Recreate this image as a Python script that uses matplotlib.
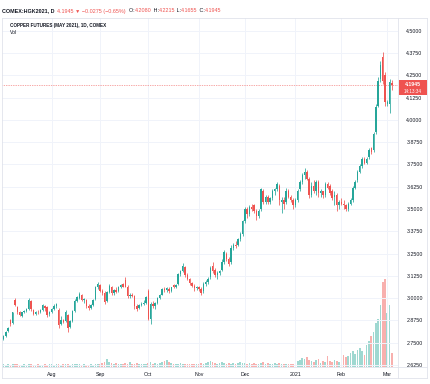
import matplotlib
matplotlib.use('Agg')
import matplotlib.pyplot as plt
import numpy as np
import pandas as pd
from matplotlib.lines import Line2D
from matplotlib.patches import Rectangle

plt.rcParams['font.family'] = ['Liberation Sans', 'DejaVu Sans']

# ---------------- data ----------------
holidays = ['2020-07-03', '2020-09-07', '2020-11-26', '2020-12-25', '2021-01-01']
dates = pd.bdate_range('2020-07-02', '2021-03-03')
dates = dates[~dates.isin(pd.to_datetime(holidays))]

opens = [
    # Jul
    2.770, 2.790, 2.815, 2.880, 2.860, 2.990, 2.950, 2.925, 2.900, 2.920, 2.930,
    2.940, 2.985, 2.935, 2.910, 2.925, 2.920, 2.935, 2.955, 2.950, 2.910,
    # Aug
    2.920, 2.940, 2.955, 2.935, 2.855, 2.875, 2.870, 2.905, 2.840, 2.870, 2.930,
    2.985, 3.000, 3.020, 2.990, 2.990, 2.955, 2.945, 2.960, 2.995, 3.060,
    # Sep
    3.075, 3.040, 3.030, 2.985, 3.035, 3.065, 3.030, 3.045, 3.040, 3.065, 3.080,
    3.100, 3.065, 3.010, 3.020, 3.010, 2.955, 2.945, 2.960, 2.970, 2.975,
    # Oct
    3.040, 2.885, 2.965, 2.955, 2.975, 3.000, 3.020, 3.050, 3.045, 3.050, 3.040,
    3.075, 3.060, 3.080, 3.135, 3.150, 3.175, 3.130, 3.110, 3.085, 3.070, 3.055,
    # Nov
    3.060, 3.050, 3.040, 3.080, 3.090, 3.120, 3.180, 3.160, 3.130, 3.140,
    3.160, 3.200, 3.250, 3.220, 3.200, 3.280, 3.300, 3.300, 3.330, 3.360,
    # Dec
    3.430, 3.500, 3.470, 3.510, 3.520, 3.490, 3.460, 3.500, 3.600, 3.540, 3.570,
    3.540, 3.560, 3.600, 3.610, 3.630, 3.540, 3.550, 3.540, 3.600, 3.570, 3.550,
    # Jan
    3.520, 3.550, 3.610, 3.650, 3.690, 3.710, 3.670, 3.580, 3.630, 3.600,
    3.650, 3.590, 3.600, 3.580, 3.640, 3.630, 3.600, 3.570, 3.580, 3.520,
    # Feb
    3.540, 3.530, 3.520, 3.500, 3.530, 3.550, 3.620, 3.660, 3.710, 3.740,
    3.780, 3.760, 3.790, 3.840, 3.830, 3.930, 4.080, 4.230, 4.350, 4.250,
    # Mar
    4.090, 4.090, 4.2080,
]
highs = [
    2.795, 2.815, 2.840, 2.885, 2.925, 3.000, 2.955, 2.930, 2.925, 2.935, 2.945,
    3.000, 2.990, 2.940, 2.930, 2.935, 2.940, 2.965, 2.960, 2.955, 2.930,
    2.945, 2.965, 2.975, 2.945, 2.900, 2.885, 2.935, 2.910, 2.880, 2.935, 2.995,
    3.010, 3.035, 3.025, 3.000, 2.995, 2.965, 2.965, 2.995, 3.070, 3.090,
    3.080, 3.050, 3.040, 3.040, 3.080, 3.070, 3.050, 3.060, 3.070, 3.080, 3.085,
    3.120, 3.075, 3.030, 3.030, 3.020, 2.970, 2.970, 2.980, 2.990, 3.010,
    3.050, 2.980, 2.985, 2.980, 3.005, 3.025, 3.055, 3.060, 3.060, 3.060, 3.065,
    3.080, 3.080, 3.140, 3.160, 3.195, 3.180, 3.140, 3.115, 3.090, 3.080, 3.070,
    3.070, 3.060, 3.090, 3.100, 3.120, 3.180, 3.200, 3.170, 3.150, 3.160,
    3.220, 3.270, 3.260, 3.230, 3.300, 3.310, 3.320, 3.340, 3.370, 3.440,
    3.510, 3.510, 3.520, 3.530, 3.530, 3.500, 3.500, 3.620, 3.610, 3.580, 3.580,
    3.570, 3.610, 3.620, 3.650, 3.640, 3.570, 3.570, 3.620, 3.610, 3.580, 3.560,
    3.560, 3.610, 3.660, 3.700, 3.730, 3.720, 3.680, 3.650, 3.660, 3.660,
    3.660, 3.610, 3.600, 3.650, 3.650, 3.640, 3.610, 3.600, 3.590, 3.550,
    3.560, 3.550, 3.530, 3.540, 3.560, 3.630, 3.660, 3.720, 3.750, 3.790,
    3.790, 3.790, 3.840, 3.850, 3.930, 4.090, 4.240, 4.330, 4.380, 4.270,
    4.110, 4.230, 4.2215,
]
lows = [
    2.765, 2.785, 2.810, 2.845, 2.855, 2.955, 2.910, 2.900, 2.895, 2.915, 2.925,
    2.935, 2.930, 2.905, 2.905, 2.910, 2.915, 2.930, 2.930, 2.895, 2.900,
    2.915, 2.935, 2.945, 2.835, 2.850, 2.860, 2.865, 2.810, 2.835, 2.865, 2.925,
    2.980, 2.995, 2.985, 2.975, 2.945, 2.935, 2.940, 2.955, 2.990, 3.050,
    3.035, 3.020, 2.970, 2.980, 3.030, 3.020, 3.015, 3.030, 3.035, 3.055, 3.060,
    3.060, 3.000, 3.000, 3.005, 2.940, 2.930, 2.940, 2.955, 2.960, 2.970,
    2.880, 2.855, 2.945, 2.940, 2.970, 2.995, 3.015, 3.035, 3.035, 3.030, 3.035,
    3.055, 3.055, 3.075, 3.125, 3.145, 3.120, 3.100, 3.075, 3.060, 3.040, 3.045,
    3.040, 3.020, 3.030, 3.070, 3.080, 3.110, 3.140, 3.120, 3.110, 3.130,
    3.150, 3.190, 3.210, 3.180, 3.190, 3.270, 3.280, 3.290, 3.320, 3.350,
    3.420, 3.450, 3.460, 3.490, 3.480, 3.440, 3.450, 3.490, 3.530, 3.530, 3.530,
    3.530, 3.550, 3.580, 3.600, 3.520, 3.480, 3.500, 3.530, 3.560, 3.540, 3.500,
    3.510, 3.540, 3.600, 3.640, 3.670, 3.660, 3.560, 3.570, 3.590, 3.580,
    3.570, 3.570, 3.560, 3.570, 3.610, 3.580, 3.550, 3.520, 3.490, 3.500,
    3.520, 3.500, 3.490, 3.490, 3.520, 3.540, 3.610, 3.650, 3.700, 3.730,
    3.750, 3.750, 3.780, 3.810, 3.820, 3.920, 4.070, 4.210, 4.200, 4.080,
    4.080, 4.040, 4.1655,
]
closes = [
    2.790, 2.810, 2.835, 2.855, 2.920, 2.960, 2.920, 2.905, 2.920, 2.930, 2.940,
    2.990, 2.940, 2.910, 2.925, 2.920, 2.935, 2.960, 2.945, 2.905, 2.920,
    2.940, 2.955, 2.965, 2.850, 2.880, 2.865, 2.925, 2.835, 2.870, 2.930, 2.985,
    3.005, 3.025, 2.990, 2.995, 2.955, 2.945, 2.960, 2.990, 3.060, 3.080,
    3.040, 3.030, 2.980, 3.035, 3.070, 3.030, 3.045, 3.035, 3.065, 3.075, 3.065,
    3.065, 3.010, 3.020, 3.010, 2.955, 2.940, 2.960, 2.970, 2.975, 3.005,
    2.885, 2.965, 2.955, 2.975, 3.000, 3.015, 3.050, 3.045, 3.055, 3.040, 3.060,
    3.060, 3.075, 3.135, 3.150, 3.180, 3.130, 3.110, 3.085, 3.070, 3.055, 3.060,
    3.050, 3.030, 3.080, 3.090, 3.110, 3.170, 3.150, 3.130, 3.140, 3.150,
    3.200, 3.260, 3.220, 3.190, 3.280, 3.300, 3.290, 3.330, 3.360, 3.430,
    3.500, 3.470, 3.510, 3.500, 3.490, 3.460, 3.490, 3.610, 3.540, 3.570, 3.540,
    3.560, 3.600, 3.610, 3.640, 3.550, 3.550, 3.530, 3.600, 3.570, 3.550, 3.520,
    3.550, 3.600, 3.650, 3.690, 3.710, 3.670, 3.580, 3.630, 3.600, 3.650,
    3.590, 3.600, 3.580, 3.640, 3.620, 3.590, 3.560, 3.580, 3.520, 3.540,
    3.530, 3.520, 3.500, 3.530, 3.550, 3.620, 3.650, 3.710, 3.740, 3.780,
    3.760, 3.780, 3.830, 3.820, 3.920, 4.070, 4.220, 4.310, 4.220, 4.100,
    4.100, 4.210, 4.1945,
]
volumes = [
    3, 2, 3, 2, 3, 4, 3, 2, 2, 3, 2, 3, 3, 2, 2, 3, 2, 2, 3, 2, 3,
    3, 2, 4, 3, 2, 3, 3, 4, 2, 3, 3, 4, 3, 2, 3, 2, 2, 3, 2, 4, 3,
    4, 5, 6, 9, 6, 5, 4, 5, 3, 4, 3, 5, 4, 6, 4, 3, 5, 4, 3, 4, 3,
    5, 6, 4, 5, 4, 5, 6, 7, 8, 6, 5, 4, 3, 4, 5, 4, 3, 4, 3, 3, 4, 3,
    4, 5, 4, 5, 6, 7, 6, 5, 4, 5, 6, 5, 4, 5, 4, 5, 4, 5, 6, 5,
    5, 4, 5, 4, 5, 4, 4, 5, 6, 4, 5, 4, 4, 5, 4, 5, 4, 3, 4, 3, 3, 4,
    5, 7, 8, 10, 9, 12, 8, 7, 6, 8, 9, 5, 7, 6, 13, 7, 6, 8, 7, 6,
    12, 14, 11, 13, 16, 18, 15, 20, 22, 18, 14, 25, 30, 35, 40, 50, 55, 71, 97, 101,
    62, 71, 16,
]
month_labels = ['Aug', 'Sep', 'Oct', 'Nov', 'Dec', '2021', 'Feb', 'Mar']
price_ticks = [2.625, 2.75, 2.875, 3.0, 3.125, 3.25, 3.375, 3.5, 3.625,
               3.75, 3.875, 4.0, 4.125, 4.25, 4.375, 4.5]
last_price = 4.1945

# ---------------- figure ----------------
W, H = 430, 384
fig = plt.figure(figsize=(W / 100, H / 100), dpi=100)
def fx(px): return px / W
def fy(py): return 1 - py / H

UP, DOWN = '#26a69a', '#ef5350'
UPV, DOWNV = '#9fd8d1', '#f8b0ae'
TXT = '#131722'
GRID = '#f0f3fa'
BORDER = '#e0e3eb'

L, R, T, B = 2, 398, 18, 367
pos = [fx(L), fy(B), (R - L) / W, (B - T) / H]
axv = fig.add_axes(pos)
ax = fig.add_axes(pos)
ax.patch.set_alpha(0)

n = len(closes)
idx = np.arange(n)
o = np.array(opens); c = np.array(closes); h = np.array(highs); lo = np.array(lows)
up = c >= o

xlim = (-0.65, n - 1 + 2.65)

# volume
axv.bar(idx, volumes, width=0.72, color=[UPV if u else DOWNV for u in up], linewidth=0)
axv.set_ylim(0, 400)
axv.set_xlim(*xlim)
axv.axis('off')

# month ticks
months = dates.to_period('M')
month_idx = [int(np.argmax(months == p)) for p in months.unique()[1:]]

ax.set_xlim(*xlim)
ax.set_ylim(2.614, 4.571)
for m in month_idx:
    ax.axvline(m, color=GRID, lw=0.7, zorder=0)
for p in price_ticks:
    ax.axhline(p, color=GRID, lw=0.7, zorder=0)

cols = [UP if u else DOWN for u in up]
ax.vlines(idx, lo, h, colors=cols, lw=0.55, zorder=2)
body = np.maximum(np.abs(c - o), 0.003)
ax.bar(idx, body, bottom=np.minimum(o, c), width=0.62, color=cols, linewidth=0, zorder=3)

ax.axhline(last_price, color=DOWN, lw=0.5, ls=(0, (1, 1.5)), zorder=1)

ax.set_xticks(month_idx)
ax.set_xticklabels(month_labels[:len(month_idx)])
ax.tick_params(axis='x', length=0, pad=3.5, labelsize=3.8, labelcolor=TXT)
ax.yaxis.tick_right()
ax.set_yticks(price_ticks)
ax.set_yticklabels([f'{p:.4f}' for p in price_ticks])
ax.tick_params(axis='y', length=0, pad=6, labelsize=3.8, labelcolor=TXT)
for s in ax.spines.values():
    s.set_visible(False)

# frame lines
for (x0, y0, x1, y1) in [(2, 18, 427, 18), (2, 378, 427, 378), (2, 18, 2, 378),
                         (427, 18, 427, 378), (398, 18, 398, 378), (2, 367, 427, 367)]:
    fig.add_artist(Line2D([fx(x0), fx(x1)], [fy(y0), fy(y1)], color=BORDER, lw=0.6))

# last price label
fig.add_artist(Rectangle((fx(399), fy(95)), (427 - 399) / W, 15 / H, color=DOWN, lw=0))
fig.text(fx(413), fy(84.5), f'{last_price:.4f}', color='white', fontsize=3.7,
         ha='center', va='center', fontweight='bold')
fig.text(fx(413), fy(91.3), '14:13:34', color='white', fontsize=3.3, ha='center', va='center')

# header
renderer = fig.canvas.get_renderer()
pieces = [('COMEX:HGK2021, D', TXT, 'bold'), ('  4.1945 ▼ −0.0275 (−0.65%)', DOWN, 'normal'),
          ('  O:', TXT, 'normal'), ('4.2080', DOWN, 'normal'), (' H:', TXT, 'normal'),
          ('4.2215', DOWN, 'normal'), (' L:', TXT, 'normal'), ('4.1655', DOWN, 'normal'),
          (' C:', TXT, 'normal'), ('4.1945', DOWN, 'normal')]
xcur = fx(2)
for s, col, wt in pieces:
    t = fig.text(xcur, fy(11), s, color=col, fontsize=3.9, fontweight=wt, va='center', ha='left')
    bb = t.get_window_extent(renderer)
    xcur += bb.width / fig.bbox.width

fig.text(fx(10), fy(25), 'COPPER FUTURES (MAY 2021), 1D, COMEX', color=TXT, fontsize=3.3,
         fontweight='bold', va='center', ha='left')
fig.text(fx(10), fy(32.5), 'Vol', color=TXT, fontsize=3.6, va='center', ha='left')

fig.savefig('out.png', dpi=100, facecolor='white')
